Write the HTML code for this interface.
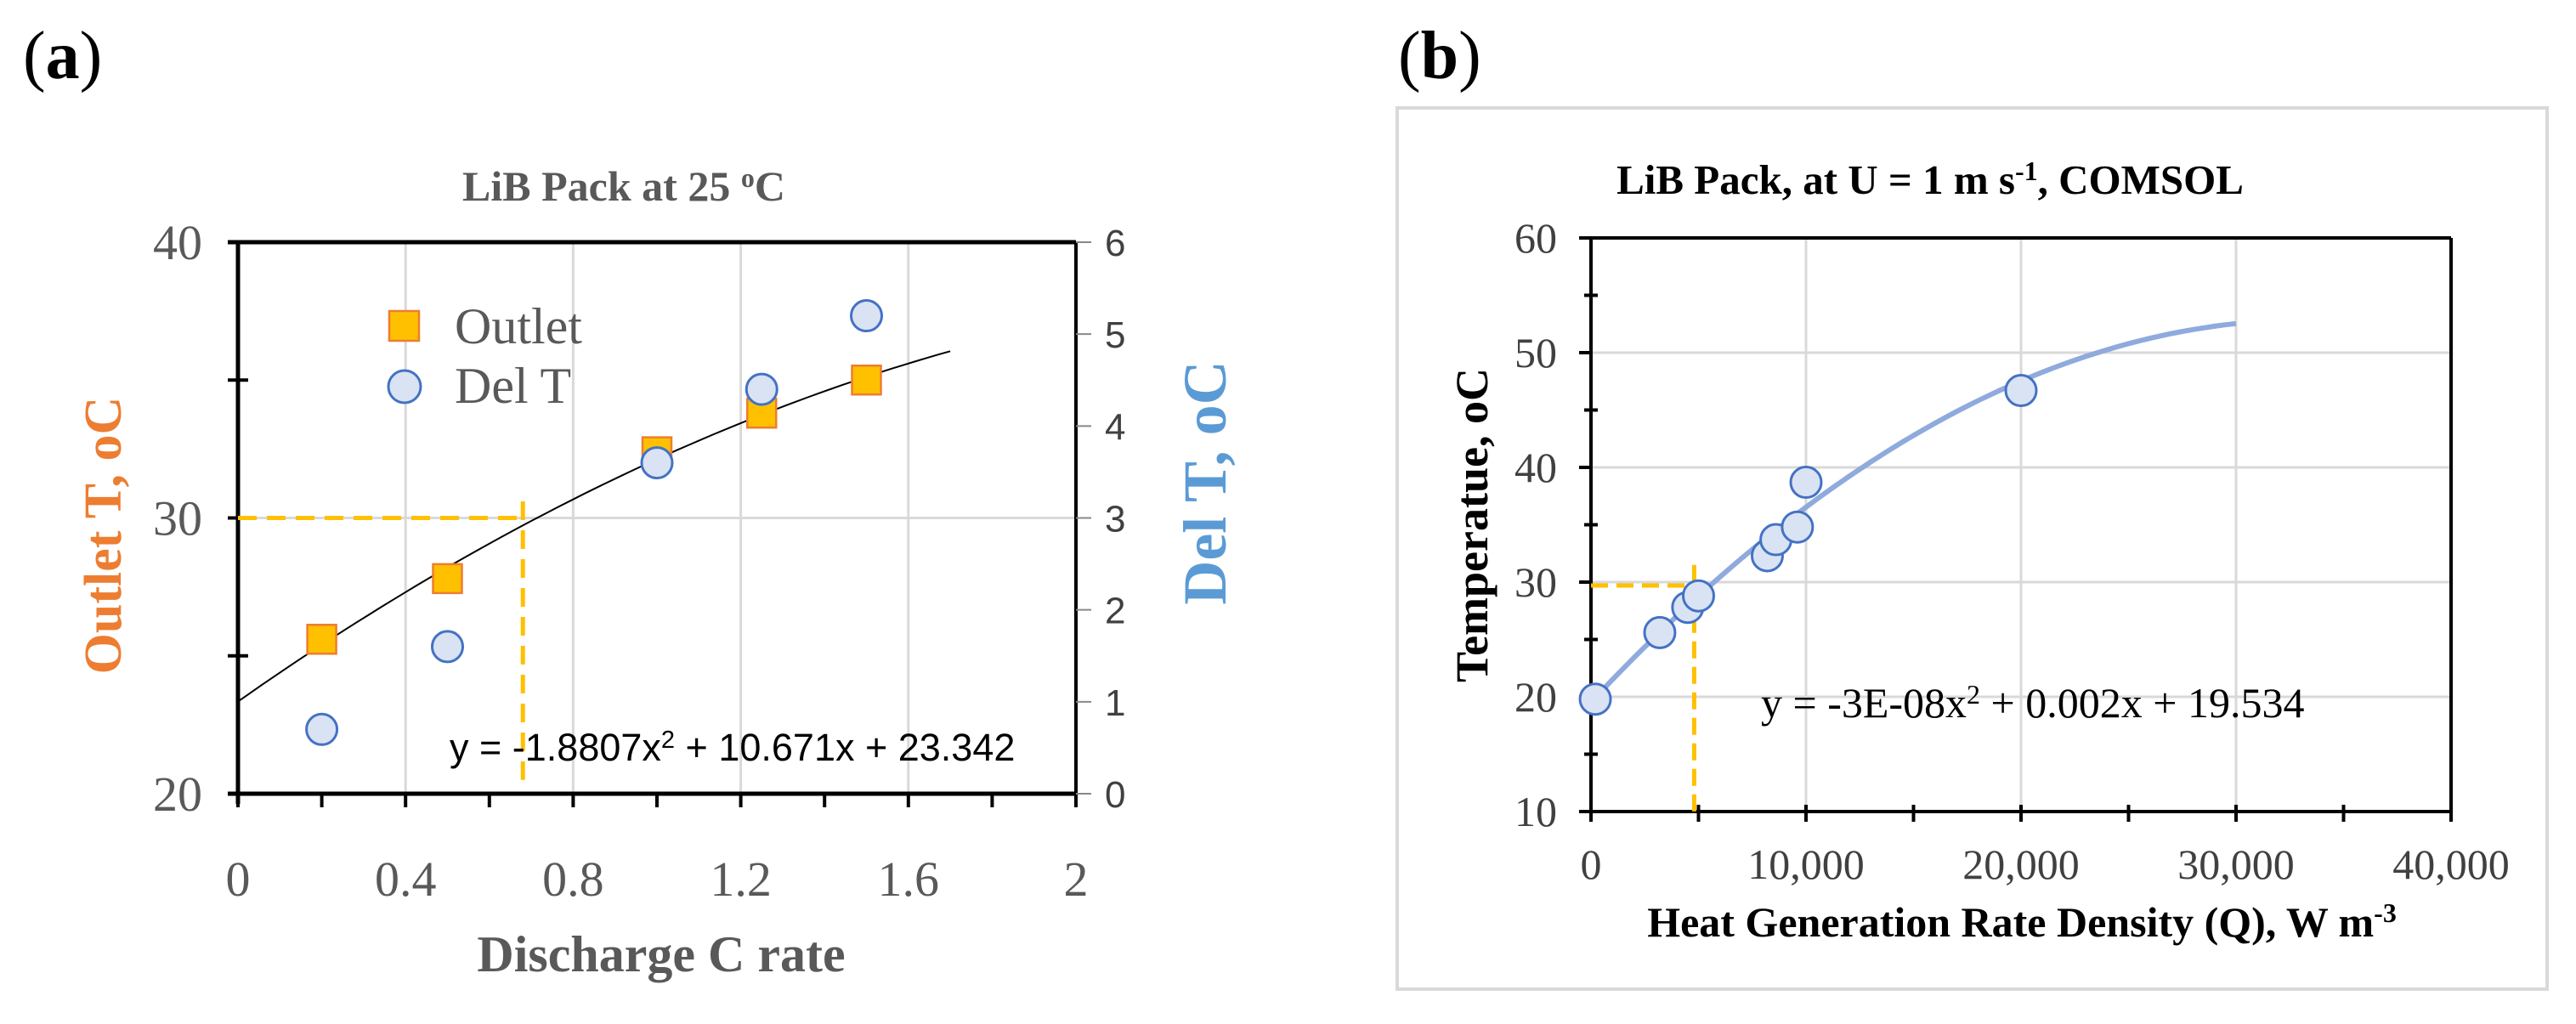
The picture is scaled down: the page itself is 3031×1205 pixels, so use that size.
<!DOCTYPE html>
<html><head><meta charset="utf-8"><style>
html,body{margin:0;padding:0;background:#fff;}
svg{display:block;}
</style></head><body>
<svg width="3031" height="1205" viewBox="0 0 3031 1205" xmlns="http://www.w3.org/2000/svg">
<g id="a"></g>
<g id="b"></g>
</svg>
<script>
// ---- Chart (a) data ----
const aOutletX = [0.2, 0.5, 1.0, 1.25, 1.5];
const aOutletY = [25.6, 27.8, 32.4, 33.8, 35.0];
const aDelX = [0.2, 0.5, 1.0, 1.25, 1.5];
const aDelY = [0.7, 1.6, 3.6, 4.4, 5.2];
const aXTicks = [0, 0.4, 0.8, 1.2, 1.6, 2];
const aXTickLabels = ["0", "0.4", "0.8", "1.2", "1.6", "2"];
const aYTicks = [20, 30, 40];
const aY2Ticks = [0, 1, 2, 3, 4, 5, 6];
const aFit = [-1.8807, 10.671, 23.342];
// ---- Chart (b) data ----
const bX = [200, 3200, 4500, 5000, 8200, 8600, 9600, 10000, 20000];
const bY = [19.8, 25.6, 27.8, 28.8, 32.3, 33.7, 34.8, 38.7, 46.7];
const bXTicks = [0, 10000, 20000, 30000, 40000];
const bXTickLabels = ["0", "10,000", "20,000", "30,000", "40,000"];
const bYTicks = [10, 20, 30, 40, 50, 60];
const bFit = [-3e-8, 0.002, 19.534];

const NS = "http://www.w3.org/2000/svg";
function mk(parent, tag, attrs, text) {
  const e = document.createElementNS(NS, tag);
  for (const k in attrs) e.setAttribute(k, attrs[k]);
  if (text !== undefined) e.textContent = text;
  parent.appendChild(e);
  return e;
}
const SERIF = "'Liberation Serif', serif";
const SANS = "'Liberation Sans', sans-serif";

// ===== Chart A =====
const A = document.getElementById('a');
const aL = 280, aR = 1266, aT = 285, aB = 934;
const ax = v => aL + (v - 0) / 2 * (aR - aL);
const ay = v => aB - (v - 20) / 20 * (aB - aT);
const ay2 = v => aB - v / 6 * (aB - aT);

let t = mk(A, 'text', {x: 27, y: 92, 'font-family': SERIF, 'font-size': 80}, '(');


mk(t, 'tspan', {'font-weight': 'bold'}, 'a'); mk(t, 'tspan', {}, ')');

t = mk(A, 'text', {x: 734, y: 236, 'font-family': SERIF, 'font-size': 50, 'font-weight': 'bold', fill: '#595959', 'text-anchor': 'middle'}, 'LiB Pack at 25 ');


mk(t, 'tspan', {dy: -16, 'font-size': 32}, 'o'); mk(t, 'tspan', {dy: 16}, 'C');

for (const v of [0.4, 0.8, 1.2, 1.6]) {
  const g = mk(A, 'line', {x1: ax(v), x2: ax(v), y1: aT, y2: aB, stroke: '#d9d9d9', 'stroke-width': 3});
  
  
}
let g = mk(A, 'line', {x1: aL, x2: aR, y1: ay(30), y2: ay(30), stroke: '#d9d9d9', 'stroke-width': 3});



mk(A, 'line', {x1: aL - 12, x2: aR, y1: aT, y2: aT, stroke: '#000', 'stroke-width': 5});
mk(A, 'line', {x1: aL - 12, x2: aR, y1: aB, y2: aB, stroke: '#000', 'stroke-width': 5});
mk(A, 'line', {x1: aL, x2: aL, y1: aT, y2: aB + 12, stroke: '#000', 'stroke-width': 5});
mk(A, 'line', {x1: aR, x2: aR, y1: aT, y2: aB + 12, stroke: '#000', 'stroke-width': 4});
for (let v = 0; v <= 2.001; v += 0.2) mk(A, 'line', {x1: ax(v), x2: ax(v), y1: aB, y2: aB + 16, stroke: '#000', 'stroke-width': 4});
for (const v of [25, 35, 30]) mk(A, 'line', {x1: aL - 12, x2: aL + 12, y1: ay(v), y2: ay(v), stroke: '#000', 'stroke-width': 4});
for (const v of aY2Ticks) mk(A, 'line', {x1: aR, x2: aR + 18, y1: ay2(v), y2: ay2(v), stroke: '#888', 'stroke-width': 2});

aXTicks.forEach((v, i) => {
  const e = mk(A, 'text', {x: ax(v), y: 1054, 'font-family': SERIF, 'font-size': 58, fill: '#595959', 'text-anchor': 'middle'}, aXTickLabels[i]);
  
  
});
aYTicks.forEach(v => {
  const e = mk(A, 'text', {x: 238, y: ay(v) + 20, 'font-family': SERIF, 'font-size': 58, fill: '#595959', 'text-anchor': 'end'}, String(v));
  
  
});
aY2Ticks.forEach(v => {
  const e = mk(A, 'text', {x: 1300, y: ay2(v) + 16, 'font-family': SANS, 'font-size': 44, fill: '#404040'}, String(v));
  
  
});
t = mk(A, 'text', {x: 778, y: 1143, 'font-family': SERIF, 'font-size': 60, 'font-weight': 'bold', fill: '#595959', 'text-anchor': 'middle'}, 'Discharge C rate');


t = mk(A, 'text', {x: 0, y: 0, transform: 'translate(142,630) rotate(-90)', 'font-family': SERIF, 'font-size': 62, 'font-weight': 'bold', fill: '#ed7d31', 'text-anchor': 'middle'}, 'Outlet  T, oC');


t = mk(A, 'text', {x: 0, y: 0, transform: 'translate(1442,568) rotate(-90)', 'font-family': SERIF, 'font-size': 72, 'font-weight': 'bold', fill: '#5b9bd5', 'text-anchor': 'middle'}, 'Del T, oC');



g = mk(A, 'path', {d: `M${ax(0)},${ay(30)} H${ax(0.68)} M${ax(0.68)},${ay(30.6)} V${ay(20.5)}`, stroke: '#ffc000', 'stroke-width': 5, 'stroke-dasharray': '22,12', fill: 'none'});



let d = '';
for (let i = 0; i <= 60; i++) { const x = 1.7 * i / 60; const y = aFit[0] * x * x + aFit[1] * x + aFit[2]; d += (i ? 'L' : 'M') + ax(x).toFixed(1) + ',' + ay(y).toFixed(1); }
g = mk(A, 'path', {d: d, stroke: '#000', 'stroke-width': 2, fill: 'none'});



aOutletX.forEach((x, i) => {
  const e = mk(A, 'rect', {x: ax(x) - 17, y: ay(aOutletY[i]) - 17, width: 34, height: 34, fill: '#ffc000', stroke: '#ed7d31', 'stroke-width': 2.5});
  
  
});
aDelX.forEach((x, i) => {
  const e = mk(A, 'circle', {cx: ax(x), cy: ay2(aDelY[i]), r: 18, fill: '#dae3f3', stroke: '#4472c4', 'stroke-width': 3});
  
  
});
let e = mk(A, 'rect', {x: 458, y: 366, width: 35, height: 35, fill: '#ffc000', stroke: '#ed7d31', 'stroke-width': 2.5});


e = mk(A, 'text', {x: 535, y: 404, 'font-family': SERIF, 'font-size': 60, fill: '#595959'}, 'Outlet');


e = mk(A, 'circle', {cx: 476, cy: 455, r: 19, fill: '#dae3f3', stroke: '#4472c4', 'stroke-width': 3});


e = mk(A, 'text', {x: 535, y: 474, 'font-family': SERIF, 'font-size': 60, fill: '#595959'}, 'Del T');


e = mk(A, 'text', {x: 529, y: 895, 'font-family': SANS, 'font-size': 45, fill: '#000'}, 'y = -1.8807x');


mk(e, 'tspan', {dy: -15, 'font-size': 29}, '2'); mk(e, 'tspan', {dy: 15}, ' + 10.671x + 23.342');

// ===== Chart B =====
const B = document.getElementById('b');
e = mk(B, 'rect', {x: 1644, y: 127, width: 1353, height: 1037, fill: '#fff', stroke: '#d9d9d9', 'stroke-width': 4});


t = mk(B, 'text', {x: 1645, y: 92, 'font-family': SERIF, 'font-size': 80}, '(');


mk(t, 'tspan', {'font-weight': 'bold'}, 'b'); mk(t, 'tspan', {}, ')');

const bL = 1872, bR = 2884, bT = 280, bB = 955;
const bx = v => bL + v / 40000 * (bR - bL);
const by = v => bB - (v - 10) / 50 * (bB - bT);

t = mk(B, 'text', {x: 2271, y: 228, 'font-family': SERIF, 'font-size': 49, 'font-weight': 'bold', fill: '#000', 'text-anchor': 'middle'}, 'LiB Pack, at U = 1 m s');


mk(t, 'tspan', {dy: -16, 'font-size': 32}, '-1'); mk(t, 'tspan', {dy: 16}, ', COMSOL');

for (const v of [10000, 20000, 30000]) {
  g = mk(B, 'line', {x1: bx(v), x2: bx(v), y1: bT, y2: bB, stroke: '#d9d9d9', 'stroke-width': 3});
  
  
}
for (const v of [20, 30, 40, 50]) {
  g = mk(B, 'line', {x1: bL, x2: bR, y1: by(v), y2: by(v), stroke: '#d9d9d9', 'stroke-width': 3});
  
  
}
mk(B, 'line', {x1: bL - 14, x2: bR, y1: bT, y2: bT, stroke: '#000', 'stroke-width': 4});
mk(B, 'line', {x1: bL - 14, x2: bR, y1: bB, y2: bB, stroke: '#000', 'stroke-width': 4});
mk(B, 'line', {x1: bL, x2: bL, y1: bT, y2: bB + 12, stroke: '#000', 'stroke-width': 4});
mk(B, 'line', {x1: bR, x2: bR, y1: bT, y2: bB + 12, stroke: '#000', 'stroke-width': 4});
for (let v = 0; v <= 40000; v += 5000) mk(B, 'line', {x1: bx(v), x2: bx(v), y1: bB - 8, y2: bB + 12, stroke: '#000', 'stroke-width': 4});
for (let v = 15; v <= 55; v += 10) mk(B, 'line', {x1: bL - 8, x2: bL + 8, y1: by(v), y2: by(v), stroke: '#000', 'stroke-width': 4});
for (const v of bYTicks) mk(B, 'line', {x1: bL - 14, x2: bL, y1: by(v), y2: by(v), stroke: '#000', 'stroke-width': 4});

bXTicks.forEach((v, i) => {
  const e2 = mk(B, 'text', {x: bx(v), y: 1034, 'font-family': SERIF, 'font-size': 50, fill: '#404040', 'text-anchor': 'middle'}, bXTickLabels[i]);
  
  
});
bYTicks.forEach(v => {
  const e2 = mk(B, 'text', {x: 1832, y: by(v) + 17, 'font-family': SERIF, 'font-size': 50, fill: '#404040', 'text-anchor': 'end'}, String(v));
  
  
});
t = mk(B, 'text', {x: 2379, y: 1102, 'font-family': SERIF, 'font-size': 50, 'font-weight': 'bold', fill: '#000', 'text-anchor': 'middle'}, 'Heat Generation Rate Density (Q), W m');


mk(t, 'tspan', {dy: -17, 'font-size': 32}, '-3');
t = mk(B, 'text', {x: 0, y: 0, transform: 'translate(1750,618) rotate(-90)', 'font-family': SERIF, 'font-size': 54, 'font-weight': 'bold', fill: '#000', 'text-anchor': 'middle'}, 'Temperatue, oC');



g = mk(B, 'path', {d: `M${bx(0)},${by(29.7)} H${bx(4800)} M${bx(4800)},${by(31.5)} V${by(10)}`, stroke: '#ffc000', 'stroke-width': 5, 'stroke-dasharray': '20,10', fill: 'none'});



d = '';
for (let i = 0; i <= 60; i++) { const x = 30000 * i / 60; let y = bFit[0] * x * x + bFit[1] * x + bFit[2]; d += (i ? 'L' : 'M') + bx(x).toFixed(1) + ',' + by(y).toFixed(1); }
g = mk(B, 'path', {d: d, stroke: '#8faadc', 'stroke-width': 6, fill: 'none'});



bX.forEach((x, i) => {
  const e2 = mk(B, 'circle', {cx: bx(x), cy: by(bY[i]), r: 18, fill: '#dae3f3', stroke: '#4472c4', 'stroke-width': 3});
  
  
});
e = mk(B, 'text', {x: 2072, y: 844, 'font-family': SERIF, 'font-size': 50, fill: '#000'}, 'y = -3E-08x');


mk(e, 'tspan', {dy: -16, 'font-size': 32}, '2'); mk(e, 'tspan', {dy: 16}, ' + 0.002x + 19.534');
</script>
</body></html>
